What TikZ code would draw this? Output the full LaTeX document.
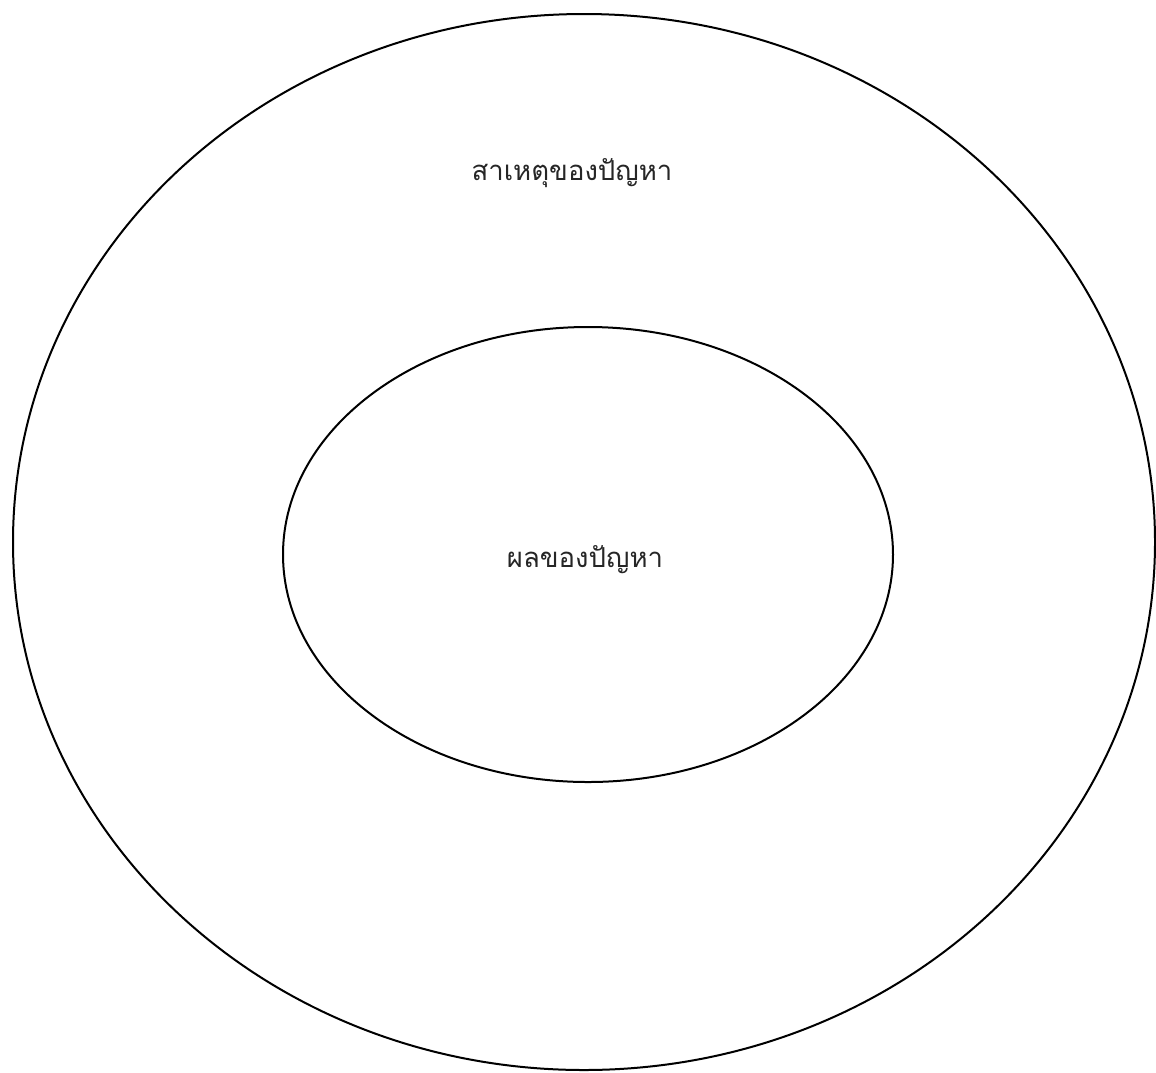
\documentclass[tikz,border=0pt]{standalone}
\usepackage{fontspec}
\usetikzlibrary{shapes.geometric}
\newfontfamily\thaifont[Script=Thai]{Loma}
\tikzset{ring/.style={draw=black, line width=2pt, ellipse, inner sep=0pt, outer sep=0pt},
  lbl/.style={font=\thaifont\fontsize{27.5}{32}\selectfont, text=black!85, inner sep=0pt}}
\begin{document}
\begin{tikzpicture}[x=1pt,y=-1pt]
\useasboundingbox[fill=white] (0,0) rectangle (1156,1072);
\node[ring, minimum width=1142pt, minimum height=1056pt] (outer) at (584,542) {};
\node[ring, minimum width=610pt, minimum height=455pt] (inner) at (588,554.5) {};
\node (cause) [lbl] at (572,173) {สาเหตุของปัญหา};
\node (effect) [lbl] at (585,560) {ผลของปัญหา};
\end{tikzpicture}
\end{document}
